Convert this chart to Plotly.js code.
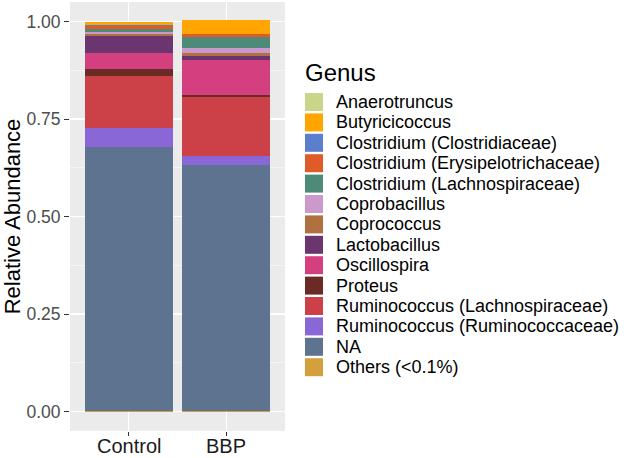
<!DOCTYPE html>
<html>
<head>
<meta charset="utf-8">
<script src="https://cdn.plot.ly/plotly-3.0.1.min.js"></script>
<style>html,body{margin:0;padding:0;background:#fff;}#chart{width:630px;height:458px;}</style>
</head>
<body>
<div id="chart"></div>
<script>
var groups = ["Control", "BBP"];
// stack order bottom -> top
var genera = ["Others (<0.1%)", "NA", "Ruminococcus (Ruminococcaceae)", "Ruminococcus (Lachnospiraceae)",
  "Proteus", "Oscillospira", "Lactobacillus", "Coprococcus", "Coprobacillus",
  "Clostridium (Lachnospiraceae)", "Clostridium (Erysipelotrichaceae)", "Clostridium (Clostridiaceae)",
  "Butyricicoccus", "Anaerotruncus"];
var controlValues = [0.001, 0.678, 0.048, 0.132, 0.020, 0.041, 0.042, 0.005, 0.005, 0.008, 0.009, 0.001, 0.009, 0.001];
var bbpValues     = [0.001, 0.630, 0.025, 0.150, 0.006, 0.090, 0.010, 0.008, 0.013, 0.026, 0.008, 0.001, 0.036, 0.001];
var colors = ["#D4A03C", "#5E738F", "#8A67D6", "#CC4048", "#6A2A26", "#D4407F", "#6B3570", "#B07040",
  "#CC99CC", "#4E8A78", "#E05A2A", "#5B7FCC", "#FFA500", "#C9D68A"];
var legendTitle = "Genus";

var traces = genera.map(function (g, i) {
  return {
    type: "bar",
    name: g,
    x: groups,
    y: [controlValues[i], bbpValues[i]],
    marker: {color: colors[i], line: {width: 0}},
    width: 0.9,
    showlegend: false,
    hoverinfo: "name+y"
  };
});

// plot-area geometry (pixels) used to place a ggplot-style legend and category labels
var W = 630, H = 458;
var M = {l: 70, r: 345, t: 2, b: 27};
var plotW = W - M.l - M.r, plotH = H - M.t - M.b;
function px2x(px) { return (px - M.l) / plotW; }
function px2y(py) { return (H - M.b - py) / plotH; }

var shapes = [], annotations = [];
var keySize = 18, pitch = 20.4, keyLeft = 305, firstTop = 93, textLeft = 334;
annotations.push({
  xref: "paper", yref: "paper", x: px2x(keyLeft - 2), y: px2y(72),
  xanchor: "left", yanchor: "middle", showarrow: false,
  text: legendTitle, font: {size: 24, color: "#000000"}
});
var legendOrder = genera.slice().reverse();
var legendColors = colors.slice().reverse();
legendOrder.forEach(function (g, i) {
  var top = firstTop + i * pitch;
  shapes.push({
    type: "rect", xref: "paper", yref: "paper",
    x0: px2x(keyLeft), x1: px2x(keyLeft + keySize),
    y0: px2y(top + keySize), y1: px2y(top),
    fillcolor: legendColors[i], line: {width: 0}
  });
  annotations.push({
    xref: "paper", yref: "paper", x: px2x(textLeft), y: px2y(top + keySize / 2),
    xanchor: "left", yanchor: "middle", showarrow: false,
    text: g, font: {size: 18, color: "#000000"}
  });
});
// category labels below the panel
groups.forEach(function (g) {
  annotations.push({
    xref: "x", yref: "paper", x: g, y: px2y(446),
    xanchor: "center", yanchor: "middle", showarrow: false,
    text: g, font: {size: 20, color: "#1A1A1A"}
  });
});

var layout = {
  width: W, height: H,
  margin: {l: M.l, r: M.r, t: M.t, b: M.b, pad: 0},
  barmode: "stack",
  paper_bgcolor: "#FFFFFF",
  plot_bgcolor: "#EBEBEB",
  font: {family: "Liberation Sans, Arial, sans-serif", color: "#1A1A1A"},
  xaxis: {
    type: "category",
    range: [-0.6, 1.6],
    showgrid: true, gridcolor: "#FFFFFF", gridwidth: 1.1,
    ticks: "outside", ticklen: 4, tickcolor: "#333333", tickwidth: 1,
    showticklabels: false,
    zeroline: false, showline: false
  },
  yaxis: {
    range: [-0.05, 1.05],
    tickvals: [0, 0.25, 0.5, 0.75, 1.0],
    ticktext: ["0.00", "0.25", "0.50", "0.75", "1.00"],
    showgrid: true, gridcolor: "#FFFFFF", gridwidth: 1.1,
    minor: {tickvals: [0.125, 0.375, 0.625, 0.875], showgrid: true, gridcolor: "#FFFFFF", gridwidth: 0.5, ticks: ""},
    ticks: "outside", ticklen: 5, tickcolor: "#333333", tickwidth: 1,
    tickfont: {size: 17.5, color: "#4D4D4D"},
    zeroline: false, showline: false,
    title: {text: "Relative Abundance", font: {size: 22, color: "#000000"}, standoff: 3}
  },
  shapes: shapes,
  annotations: annotations,
  showlegend: false
};

Plotly.newPlot("chart", traces, layout, {displayModeBar: false, staticPlot: true});
</script>
</body>
</html>
